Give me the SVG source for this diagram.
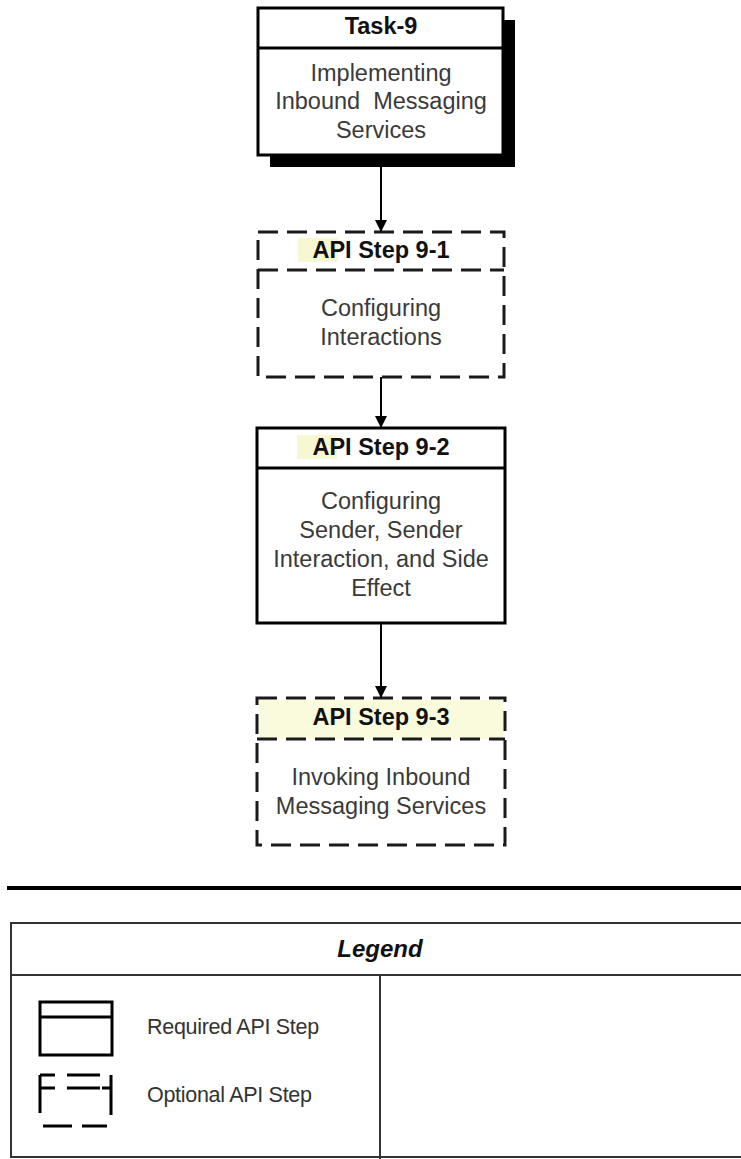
<svg xmlns="http://www.w3.org/2000/svg" width="741" height="1159" viewBox="0 0 741 1159">
<style>
.box{fill:#fff;stroke:#000;stroke-width:3}
.dash{fill:#fff;stroke:#1a1a1a;stroke-width:3;stroke-dasharray:20 9}
.ttl{font-family:"Liberation Sans",Arial,sans-serif;font-weight:bold;font-size:23.5px;fill:#111;text-anchor:middle}
.body{font-family:"Liberation Sans",Arial,sans-serif;font-size:23.5px;fill:#3a3a3a;text-anchor:middle}
.leg{font-family:"Liberation Sans",Arial,sans-serif;font-size:21.5px;fill:#333;letter-spacing:-0.3px}
.conn{stroke:#000;stroke-width:2;fill:none}
</style>
<defs>
<marker id="arr" markerWidth="12" markerHeight="12" refX="11" refY="6" orient="auto" markerUnits="userSpaceOnUse">
<path d="M0,0 L12,6 L0,12 z" fill="#000"/>
</marker>
</defs>
<rect width="741" height="1159" fill="#fff"/>

<g id="task9">
<rect x="270" y="20" width="245" height="147" fill="#000"/>
<rect class="box" x="258" y="8" width="245" height="147"/>
<line x1="258" y1="48" x2="503" y2="48" stroke="#000" stroke-width="3"/>
<text class="ttl" x="381" y="34">Task-9</text>
<text class="body" x="381" y="81">Implementing</text>
<text class="body" x="381" y="109" xml:space="preserve">Inbound  Messaging</text>
<text class="body" x="381" y="138">Services</text>
</g>

<g id="step91">
<rect class="dash" x="258" y="232" width="246" height="145"/>
<line x1="258" y1="270" x2="504" y2="270" stroke="#1a1a1a" stroke-width="3" stroke-dasharray="20 9"/>
<rect x="298" y="238" width="40" height="24" fill="#f7f7d2"/>
<text class="ttl" x="381" y="258">API Step 9-1</text>
<text class="body" x="381" y="316">Configuring</text>
<text class="body" x="381" y="345">Interactions</text>
</g>

<g id="step92">
<rect class="box" x="257" y="428" width="248" height="195"/>
<line x1="257" y1="468" x2="505" y2="468" stroke="#000" stroke-width="3"/>
<rect x="297" y="435" width="40" height="24" fill="#f7f7d2"/>
<text class="ttl" x="381" y="455">API Step 9-2</text>
<text class="body" x="381" y="509">Configuring</text>
<text class="body" x="381" y="538">Sender, Sender</text>
<text class="body" x="381" y="567">Interaction, and Side</text>
<text class="body" x="381" y="596">Effect</text>
</g>

<g id="step93">
<rect class="dash" x="257" y="698" width="248" height="147"/>
<rect x="259" y="700" width="244" height="39" fill="#fafadc"/>
<line x1="257" y1="739" x2="505" y2="739" stroke="#1a1a1a" stroke-width="3" stroke-dasharray="20 9"/>
<text class="ttl" x="381" y="725" fill="#1a1a00">API Step 9-3</text>
<text class="body" x="381" y="785">Invoking Inbound</text>
<text class="body" x="381" y="814">Messaging Services</text>
</g>

<g id="connectors">
<line class="conn" x1="381" y1="155" x2="381" y2="231" marker-end="url(#arr)"/>
<line class="conn" x1="381" y1="377" x2="381" y2="427" marker-end="url(#arr)"/>
<line class="conn" x1="381" y1="623" x2="381" y2="697" marker-end="url(#arr)"/>
</g>

<g id="separator">
<line x1="7" y1="888" x2="741" y2="888" stroke="#000" stroke-width="4"/>
</g>

<g id="legend">
<rect x="11" y="923" width="740" height="234" fill="#fff" stroke="#333" stroke-width="2"/>
<line x1="11" y1="975" x2="741" y2="975" stroke="#333" stroke-width="2"/>
<line x1="380" y1="975" x2="380" y2="1159" stroke="#333" stroke-width="2"/>
<text x="380" y="957" font-family="Liberation Sans, Arial, sans-serif" font-size="24" font-weight="bold" font-style="italic" text-anchor="middle" fill="#111">Legend</text>
<g id="leg-required">
<rect x="40" y="1002" width="72" height="53" fill="none" stroke="#000" stroke-width="3"/>
<line x1="40" y1="1017" x2="112" y2="1017" stroke="#000" stroke-width="3"/>
<text class="leg" x="147" y="1034">Required API Step</text>
</g>
<g id="leg-optional">
<path d="M40,1075 V1113 M40,1075 H55 M40,1088 H55 M67,1075 H100 M67,1088 H100 M111,1075 V1115 M102,1088 H111 M43,1126 H72 M82,1126 H107" fill="none" stroke="#000" stroke-width="3"/>
<text class="leg" x="147" y="1102">Optional API Step</text>
</g>
</g>
</svg>
